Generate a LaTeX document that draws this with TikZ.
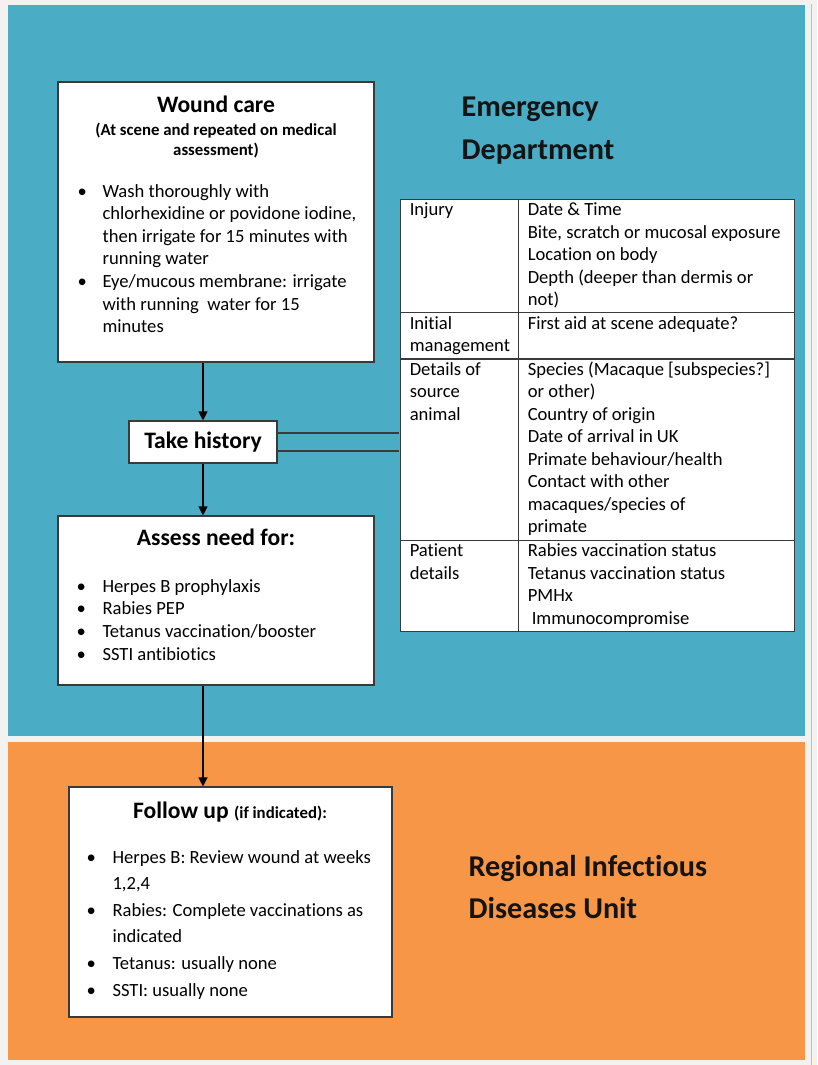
\documentclass[tikz,border=0pt]{standalone}
\usepackage{fontspec}
\setmainfont{Carlito}[Ligatures=NoCommon]
\usepackage{array}
\usepackage{colortbl}
\usetikzlibrary{arrows.meta}

\definecolor{edblue}{HTML}{4BACC6}
\definecolor{idorange}{HTML}{F79646}
\definecolor{pagegrey}{HTML}{F2F2F0}
\definecolor{rulegrey}{HTML}{3A3A3A}

\begin{document}
\begin{tikzpicture}[x=1pt, y=-1pt, line width=1.1pt, >={Triangle[width=9pt,length=9pt]}]

	% Styles for boxes and texts
	\tikzset{
		frame/.style={
			draw=rulegrey,
			fill=white,
			inner sep=0pt
		},
		head/.style={
			inner sep=0pt,
			anchor=base,
			font=\fontsize{23.6}{28}\selectfont\bfseries
		},
		sub/.style={
			inner sep=0pt,
			anchor=base,
			font=\fontsize{16.8}{20}\selectfont\bfseries
		},
		txt/.style={
			inner sep=0pt,
			anchor=base west,
			font=\fontsize{18.6}{22.6}\selectfont
		},
		unit/.style={
			inner sep=0pt,
			anchor=base west,
			text=black!92,
			font=\fontsize{30.2}{43}\selectfont\bfseries
		}
	}

	% Background panels
	\useasboundingbox (0,0) rectangle (817,1065);
	\fill[pagegrey] (0,0) rectangle (817,1065);
	\fill[edblue] (8,5) rectangle (805,736);
	\fill[idorange] (8,742) rectangle (805,1060);
	\draw[black!25, line width=0.8pt] (811,4) -- (811,1065);

	% Unit titles
	\node[unit] (ed) at (461,116) {\begin{tabular}[t]{@{}l@{}}Emergency\\Department\end{tabular}};
	\node[unit, font=\fontsize{30.2}{42}\selectfont\bfseries] (ridu) at (468,876) {\begin{tabular}[t]{@{}l@{}}Regional Infec\kern0pt tious\\Diseases Unit\end{tabular}};

	% Wound care
	\node[frame, minimum width=316pt, minimum height=280pt] (wound) at (216,222) {};
	\node[head] (woundttl) at (216,112) {Wound care};
	\node[sub] (woundsub) at (216,135) {\begin{tabular}[t]{@{}c@{}}(At scene and repeated on medical\\assessment)\end{tabular}};
	\node[txt] (woundlist) at (77,197) {\begin{tabular}[t]{@{}p{25pt}@{}l@{}}
		\textbullet & Wash thoroughly with\\
		& chlorhexidine or povidone iodine,\\
		& then irrigate for 15 minutes with\\
		& running water\\
		\textbullet & Eye/mucous membrane: irrigate\\
		& with running\ \ water for 15\\
		& minutes
	\end{tabular}};

	% Take history
	\node[frame, minimum width=148pt, minimum height=42pt, font=\fontsize{23.6}{28}\selectfont\bfseries] (hist) at (203,442) {Take history};

	% History table
	\node[inner sep=0pt, fill=white, anchor=north west, font=\fontsize{18.6}{22.5}\selectfont] (hx) at (399,198) {%
		\setlength{\arrayrulewidth}{1.2pt}\arrayrulecolor{rulegrey}\setlength{\tabcolsep}{9pt}%
		\begin{tabular}{|>{\raggedright\arraybackslash}p{98.8pt}|>{\raggedright\arraybackslash}p{256.8pt}|}
			\hline
			Injury & Date \& Time\newline Bite, scratch or mucosal exposure\newline Location on body\newline Depth (deeper than dermis or\newline not)\\ \hline
			Initial\newline management & First aid at scene adequate?\\ \hline
			Details of\newline source\newline animal & Species (Macaque [subspecies?]\newline or other)\newline Country of origin\newline Date of arrival in UK\newline Primate behaviour/health\newline Contact with other\newline macaques/species of\newline primate\\ \hline
			Patient\newline details & Rabies vaccination status\newline Tetanus vaccination status\newline PMHx\newline \hspace*{4pt}Immunocompromise\\ \hline
		\end{tabular}};

	% Assess need for
	\node[frame, minimum width=316pt, minimum height=169pt] (assess) at (216,600.5) {};
	\node[head] (assessttl) at (216,545) {Assess need for:};
	\node[txt, font=\fontsize{18.6}{22.8}\selectfont] (assesslist) at (76,592) {\begin{tabular}[t]{@{}p{26pt}@{}l@{}}
		\textbullet & Herpes B prophylaxis\\
		\textbullet & Rabies PEP\\
		\textbullet & Tetanus vaccination/booster\\
		\textbullet & SSTI antibiotics
	\end{tabular}};

	% Follow up
	\node[frame, minimum width=323pt, minimum height=230pt] (follow) at (230.5,902) {};
	\node[head] (followttl) at (230,818) {Follow up {\fontsize{16.8}{20}\selectfont (if indicated):}};
	\node[txt, font=\fontsize{18.6}{26.6}\selectfont] (followlist) at (86,863) {\begin{tabular}[t]{@{}p{26pt}@{}l@{}}
		\textbullet & Herpes B: Review wound at weeks\\
		& 1,2,4\\
		\textbullet & Rabies: Complete vaccinations as\\
		& indicated\\
		\textbullet & Tetanus: usually none\\
		\textbullet & SSTI: usually none
	\end{tabular}};

	% Connectors
	\draw[->] (wound.south -| hist.north) -- (hist.north);
	\draw[->] (hist.south) -- (assess.north -| hist.south);
	\draw[->] (assess.south -| hist.south) -- (follow.north -| hist.south);
	\draw[rulegrey] ([yshift=9pt]hist.east) -- ([yshift=9pt]hist.east -| hx.west);
	\draw[rulegrey] ([yshift=-9pt]hist.east) -- ([yshift=-9pt]hist.east -| hx.west);

\end{tikzpicture}
\end{document}
